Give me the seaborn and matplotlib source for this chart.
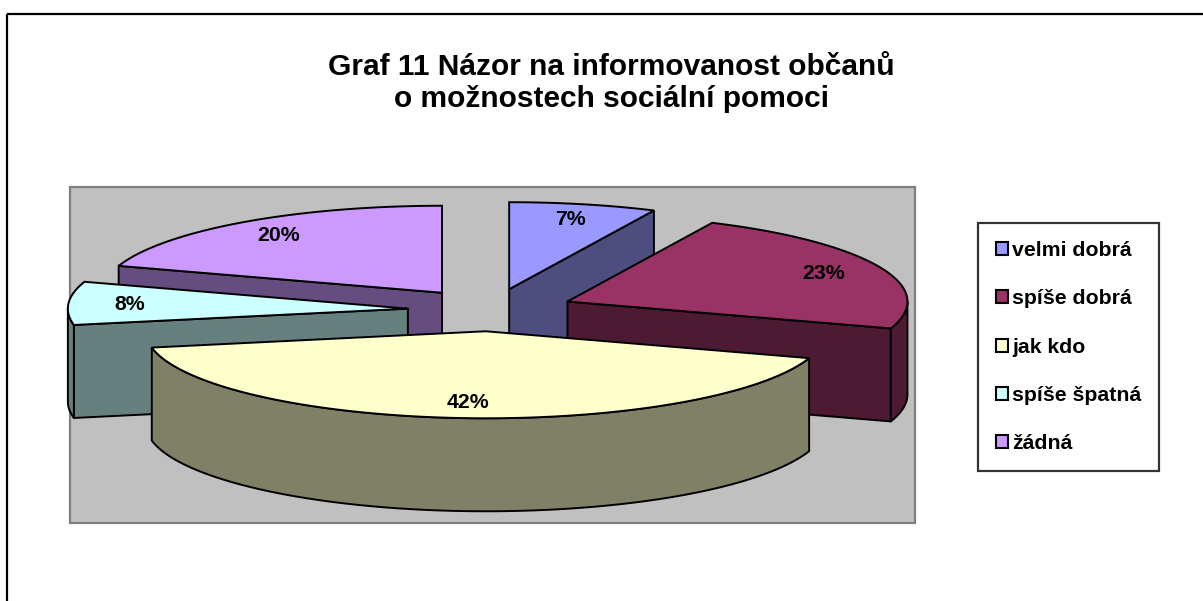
import numpy as np
import seaborn as sns
import matplotlib
matplotlib.use("Agg")
from matplotlib import pyplot as plt
from matplotlib.patches import Polygon, Rectangle, Patch
from matplotlib import colors as mcolors

# data
categories = ['velmi dobrá', 'spíše dobrá', 'jak kdo', 'spíše špatná', 'žádná']
values = [7, 23, 42, 8, 20]
labels = ['7%', '23%', '42%', '8%', '20%']
title = 'Graf 11 Názor na informovanost občanů\no možnostech sociální pomoci'
top_colors = ['#9999FF', '#993366', '#FFFFCC', '#CCFFFF', '#CC99FF']

# layout (pixels)
W, H = 1203, 601
cx, cy = 491, 310
rx, ry = 340, 87
depth = 93
explode = 0.245
lw = 1.4

sns.set_style('white')
plt.rcParams['font.family'] = ['Liberation Sans', 'DejaVu Sans']
plt.rcParams['text.color'] = 'black'

fig = plt.figure(figsize=(W / 100, H / 100), dpi=100)
ax = fig.add_axes([0, 0, 1, 1])
ax.set_xlim(0, W)
ax.set_ylim(H, 0)
ax.axis('off')

# chart frame + plot area
ax.add_patch(Rectangle((7, 14), W + 20, H + 20, fill=False, ec='black', lw=1.6))
ax.add_patch(Rectangle((70, 187), 845, 336, fc='#C0C0C0', ec='#808080', lw=1.6))


def proj(t, x0, y0):
    return x0 + rx * np.cos(t), y0 - ry * np.sin(t)


frac = np.array(values) / sum(values)
ends = np.cumsum(frac)
starts = ends - frac
# start at 12 o'clock, go clockwise
a0 = np.pi / 2 - 2 * np.pi * starts
a1 = np.pi / 2 - 2 * np.pi * ends
mids = (a0 + a1) / 2
apex = [(cx + explode * rx * np.cos(m), cy - explode * ry * np.sin(m)) for m in mids]

# back to front
for i in np.argsort([p[1] for p in apex]):
    x0, y0 = apex[i]
    side = np.array(mcolors.to_rgb(top_colors[i])) * 0.5
    t = np.linspace(a0[i], a1[i], 300)

    # cut faces
    for a, vis in ((a0[i], np.cos(a0[i]) < -1e-6), (a1[i], np.cos(a1[i]) > 1e-6)):
        if vis:
            ex, ey = proj(a, x0, y0)
            ax.add_patch(Polygon([(x0, y0), (ex, ey), (ex, ey + depth), (x0, y0 + depth)],
                                 fc=side, ec='black', lw=lw))

    # front rim
    idx = np.flatnonzero(np.sin(t) < 0)
    if idx.size:
        for r in np.split(idx, np.flatnonzero(np.diff(idx) > 1) + 1):
            xs, ys = proj(t[r], x0, y0)
            pts = np.r_[np.c_[xs, ys], np.c_[xs[::-1], ys[::-1] + depth]]
            ax.add_patch(Polygon(pts, fc=side, ec='black', lw=lw))

    # top face
    xs, ys = proj(t, x0, y0)
    ax.add_patch(Polygon(np.r_[[[x0, y0]], np.c_[xs, ys]], fc=top_colors[i], ec='black', lw=lw))

for i, lab in enumerate(labels):
    x0, y0 = apex[i]
    lx, ly = proj(mids[i], 0, 0)
    ax.text(x0 + 0.82 * lx, y0 + 0.82 * ly, lab, ha='center', va='center',
            fontsize=15.3, fontweight='bold')

ax.text(611, 83, title, ha='center', va='center', fontsize=21.5, fontweight='bold',
        linespacing=1.22)

handles = [Patch(fc=c, ec='black', lw=1.5, label=n) for c, n in zip(top_colors, categories)]
leg = ax.legend(handles=handles, loc='upper left', bbox_to_anchor=(978 / W, 1 - 223 / H),
                borderaxespad=0, frameon=True, fancybox=False, edgecolor='black',
                prop={'weight': 'bold', 'size': 15.3}, handlelength=0.55, handleheight=0.55,
                handletextpad=0.2, labelspacing=1.38, borderpad=0.85)
leg.get_frame().set_linewidth(1.6)

fig.savefig('out.png', dpi=100)
